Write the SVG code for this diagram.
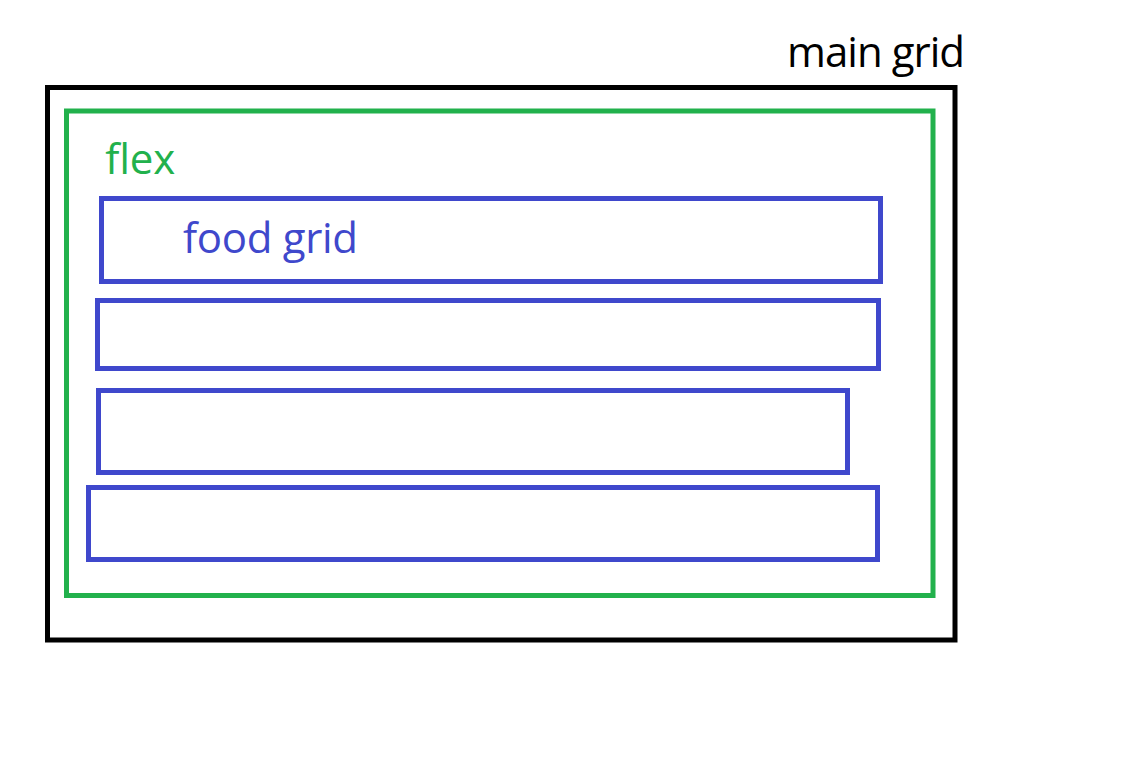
<svg xmlns="http://www.w3.org/2000/svg" width="1126" height="773" viewBox="0 0 1126 773">
<style>
.lbl{font-family:"Open Sans","Noto Sans","Liberation Sans",sans-serif;font-size:42px}
.blue{fill:none;stroke:#3F48CC;stroke-width:5}
</style>
<rect width="1126" height="773" fill="#fff"/>
<g id="main-grid">
<rect x="47.5" y="87.5" width="907.5" height="552.5" fill="none" stroke="#000" stroke-width="5"/>
<text class="lbl" x="787" y="67" fill="#000" textLength="178" lengthAdjust="spacing">main grid</text>
</g>
<g id="flex">
<rect x="66.5" y="111" width="866.5" height="484.5" fill="none" stroke="#22B14C" stroke-width="5"/>
<text class="lbl" x="105" y="174" fill="#22B14C" textLength="70" lengthAdjust="spacing">flex</text>
</g>
<g id="food-grid-1">
<rect class="blue" x="101.5" y="198.5" width="779" height="83"/>
<text class="lbl" x="183" y="253" fill="#3F48CC" textLength="175" lengthAdjust="spacing">food grid</text>
</g>
<g id="food-grid-2">
<rect class="blue" x="97.5" y="300.5" width="781" height="68"/>
</g>
<g id="food-grid-3">
<rect class="blue" x="98.5" y="390.5" width="749" height="82"/>
</g>
<g id="food-grid-4">
<rect class="blue" x="88.5" y="487.5" width="789" height="72"/>
</g>
<g id="connectors"/>
</svg>
